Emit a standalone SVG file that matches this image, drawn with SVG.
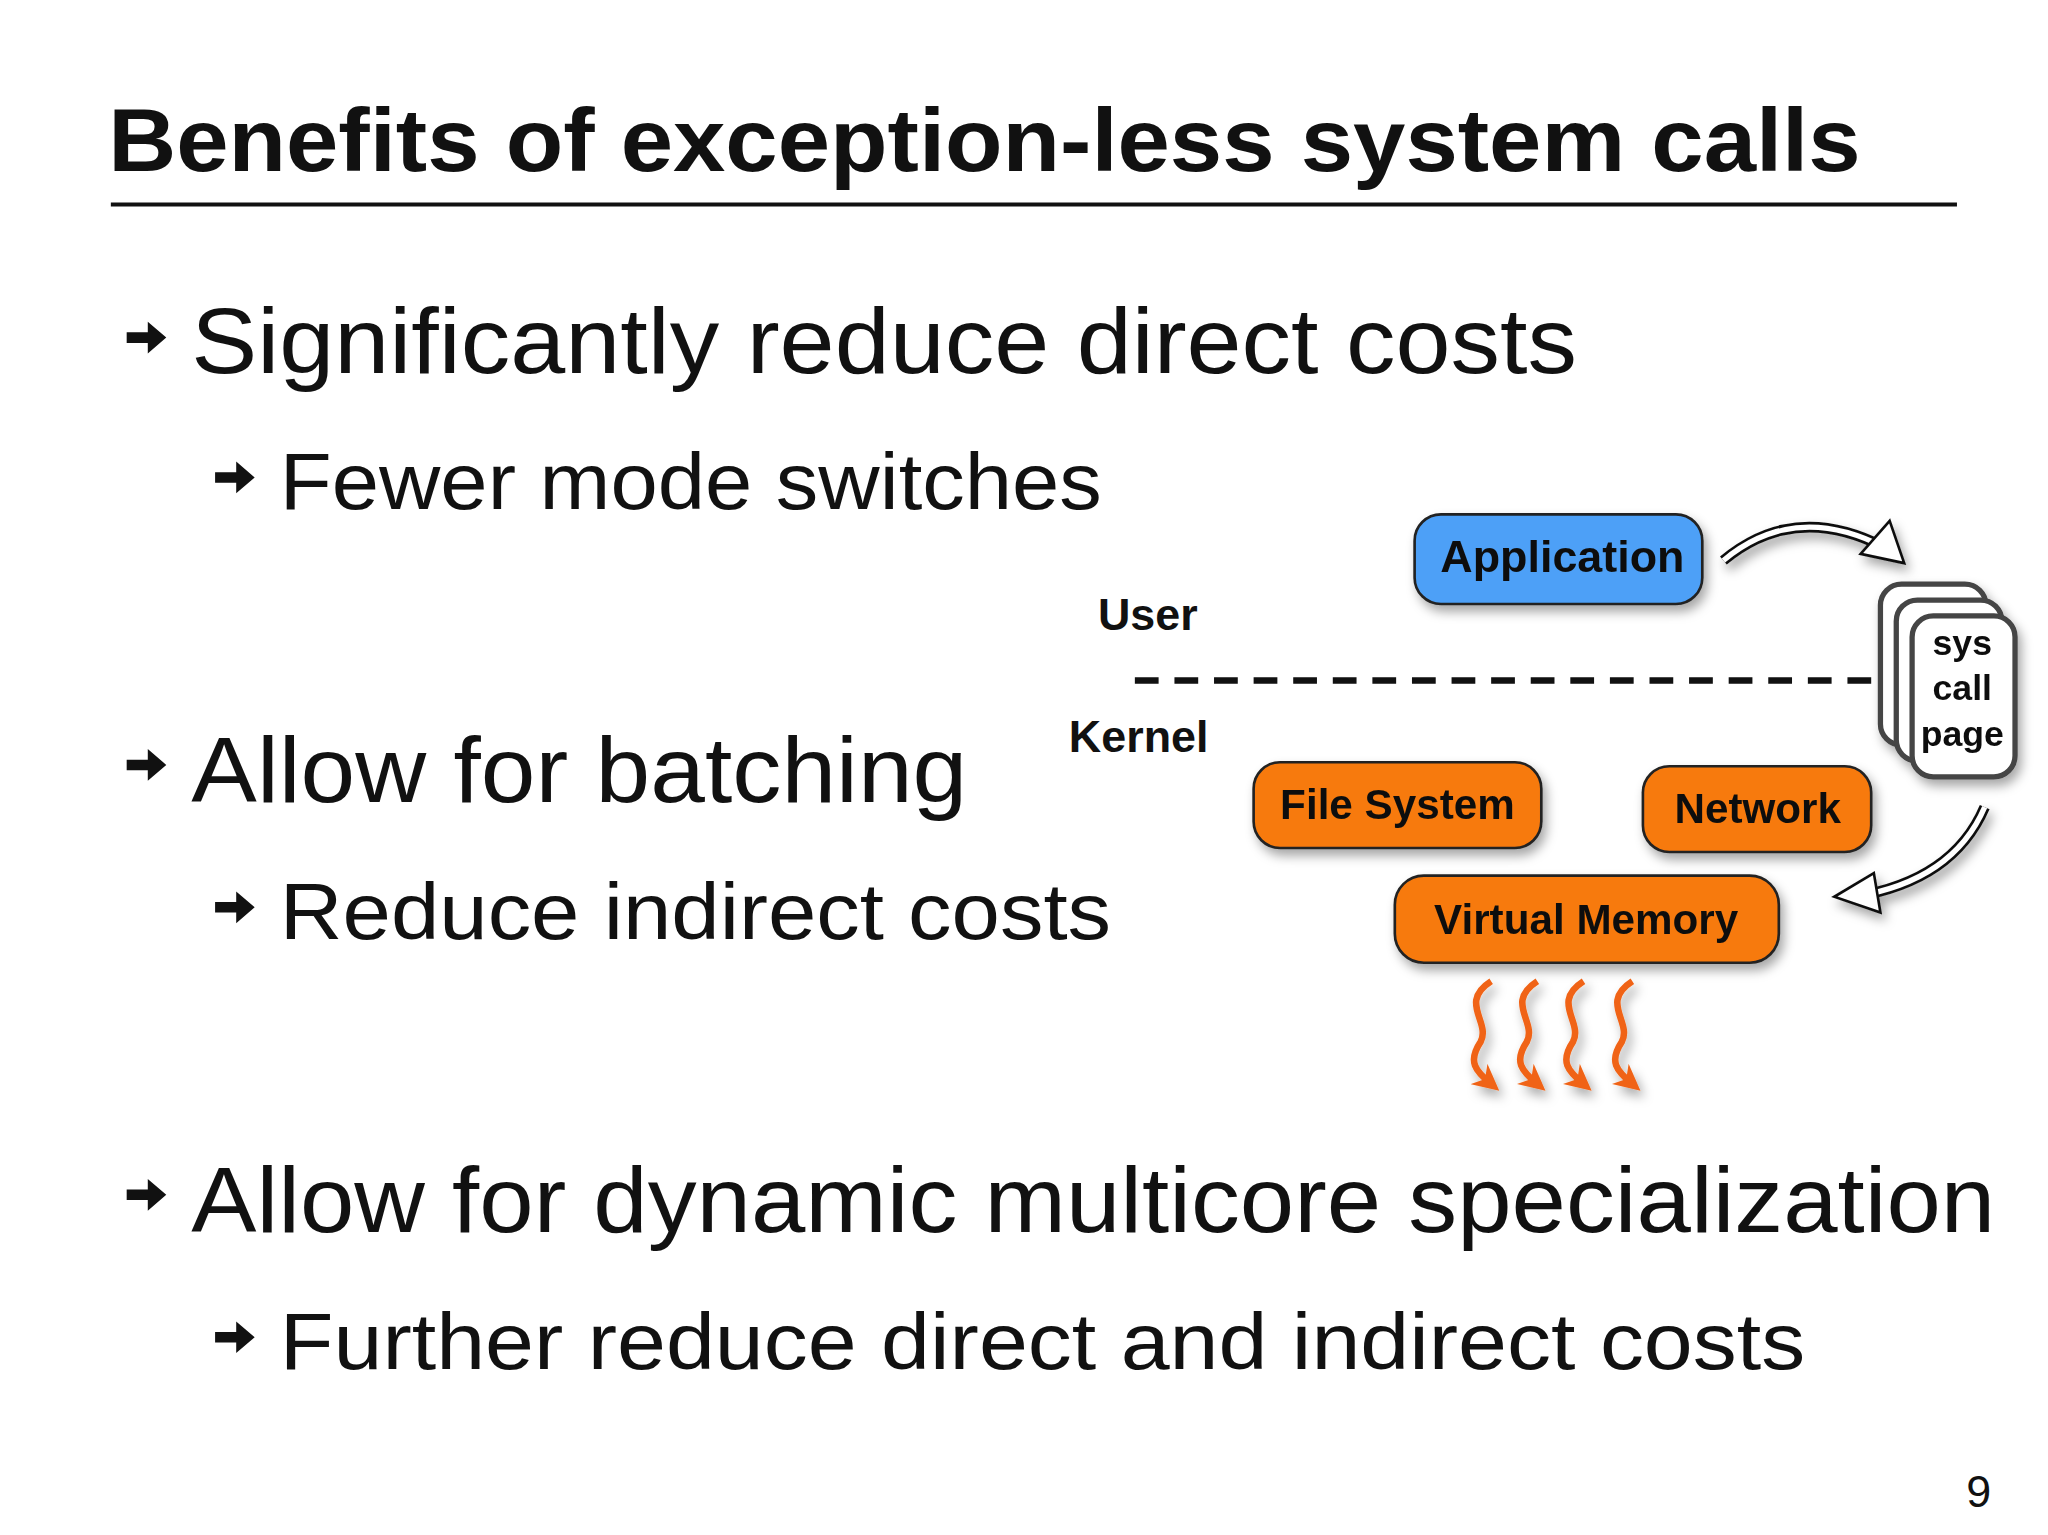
<svg xmlns="http://www.w3.org/2000/svg" width="2048" height="1535" viewBox="0 0 2048 1535">
<style>
.t{font-family:"Liberation Sans",Arial,sans-serif;fill:#111}
.b{font-weight:bold}
.node{stroke:#222;stroke-width:2}
.org{fill:#f77a0f}
.blu{fill:#4da0f7}
.pg{fill:#fff;stroke:#444;stroke-width:4}
.wave{fill:none;stroke:#f06418;stroke-width:5}
</style>
<defs>
<filter id="sh" x="-10%" y="-10%" width="130%" height="140%"><feDropShadow dx="3" dy="5" stdDeviation="4" flood-opacity="0.35"/></filter>
<marker id="wh" viewBox="0 0 10 10" refX="6" refY="5" markerWidth="4" markerHeight="4" orient="auto"><path d="M0,0 L10,5 L0,10 L3,5 Z" fill="#f06418"/></marker>
<path id="ar" d="M0,-4 L16,-4 L16,-12 L30,0 L16,12 L16,4 L0,4 Z" fill="#111"/>
</defs>
<rect width="2048" height="1535" fill="#fff"/>
<g transform="scale(1.3196,1.3188)">
<g id="title"><text class="t b" x="82" y="130" font-size="68" textLength="1328" lengthAdjust="spacingAndGlyphs">Benefits of exception-less system calls</text>
<line x1="84" y1="155" x2="1483" y2="155" stroke="#111" stroke-width="3"/></g>
<g id="bullets">
<use href="#ar" x="96" y="256"/><text class="t" x="145" y="283" font-size="70" textLength="1050" lengthAdjust="spacingAndGlyphs">Significantly reduce direct costs</text>
<use href="#ar" x="163" y="362"/><text class="t" x="212" y="386" font-size="60" textLength="623" lengthAdjust="spacingAndGlyphs">Fewer mode switches</text>
<use href="#ar" x="96" y="580"/><text class="t" x="145" y="608" font-size="70" textLength="588" lengthAdjust="spacingAndGlyphs">Allow for batching</text>
<use href="#ar" x="163" y="688"/><text class="t" x="212" y="712" font-size="60" textLength="630" lengthAdjust="spacingAndGlyphs">Reduce indirect costs</text>
<use href="#ar" x="96" y="906"/><text class="t" x="145" y="934" font-size="70" textLength="1367" lengthAdjust="spacingAndGlyphs">Allow for dynamic multicore specialization</text>
<use href="#ar" x="163" y="1014"/><text class="t" x="212" y="1038" font-size="60" textLength="1156" lengthAdjust="spacingAndGlyphs">Further reduce direct and indirect costs</text>
<text class="t" x="1490" y="1143" font-size="34">9</text>
</g>
<g id="labels">
<text class="t b" x="832" y="478" font-size="34">User</text>
<text class="t b" x="810" y="570" font-size="34">Kernel</text>
<line x1="860" y1="516" x2="1425" y2="516" stroke="#111" stroke-width="5" stroke-dasharray="18 12"/>
</g>
<g id="application" filter="url(#sh)"><rect class="node blu" x="1072" y="390" width="218" height="68" rx="20"/>
<text class="t b" x="1184" y="434" font-size="34" text-anchor="middle">Application</text></g>
<g id="syscallpage" filter="url(#sh)">
<rect class="pg" x="1425" y="443" width="80" height="122" rx="16"/>
<rect class="pg" x="1437" y="455" width="80" height="122" rx="16"/>
<rect class="pg" x="1449" y="467" width="78" height="122" rx="16"/>
<text class="t b" x="1487" y="497" font-size="27" text-anchor="middle">sys</text>
<text class="t b" x="1487" y="531" font-size="27" text-anchor="middle">call</text>
<text class="t b" x="1487" y="566" font-size="27" text-anchor="middle">page</text></g>
<g id="filesystem" filter="url(#sh)"><rect class="node org" x="950" y="578" width="218" height="65" rx="20"/>
<text class="t b" x="1059" y="621" font-size="32" text-anchor="middle">File System</text></g>
<g id="network" filter="url(#sh)"><rect class="node org" x="1245" y="581" width="173" height="65" rx="20"/>
<text class="t b" x="1332" y="624" font-size="32" text-anchor="middle">Network</text></g>
<g id="virtualmemory" filter="url(#sh)"><rect class="node org" x="1057" y="664" width="291" height="66" rx="22"/>
<text class="t b" x="1202" y="708" font-size="32" text-anchor="middle">Virtual Memory</text></g>
<g id="connectors">
<g filter="url(#sh)">
<path d="M1306,425 Q1360,380 1428,415" fill="none" stroke="#111" stroke-width="8"/>
<path d="M1306,425 Q1360,380 1428,415" fill="none" stroke="#fff" stroke-width="4"/>
<path d="M1432,395 L1443,427 L1410,420 Z" fill="#fff" stroke="#111" stroke-width="2"/>
<path d="M1504,612 Q1480,668 1405,680" fill="none" stroke="#111" stroke-width="8"/>
<path d="M1504,612 Q1480,668 1405,680" fill="none" stroke="#fff" stroke-width="4"/>
<path d="M1420,662 L1390,680 L1425,692 Z" fill="#fff" stroke="#111" stroke-width="2"/>
</g>
<g filter="url(#sh)">
<path class="wave" marker-end="url(#wh)" d="M1130,744 C1105,760 1130,775 1122,790 C1112,805 1118,812 1130,822"/>
<path class="wave" marker-end="url(#wh)" d="M1165,744 C1140,760 1165,775 1157,790 C1147,805 1153,812 1165,822"/>
<path class="wave" marker-end="url(#wh)" d="M1200,744 C1175,760 1200,775 1192,790 C1182,805 1188,812 1200,822"/>
<path class="wave" marker-end="url(#wh)" d="M1237,744 C1212,760 1237,775 1229,790 C1219,805 1225,812 1237,822"/>
</g>
</g>
</g>
</svg>
